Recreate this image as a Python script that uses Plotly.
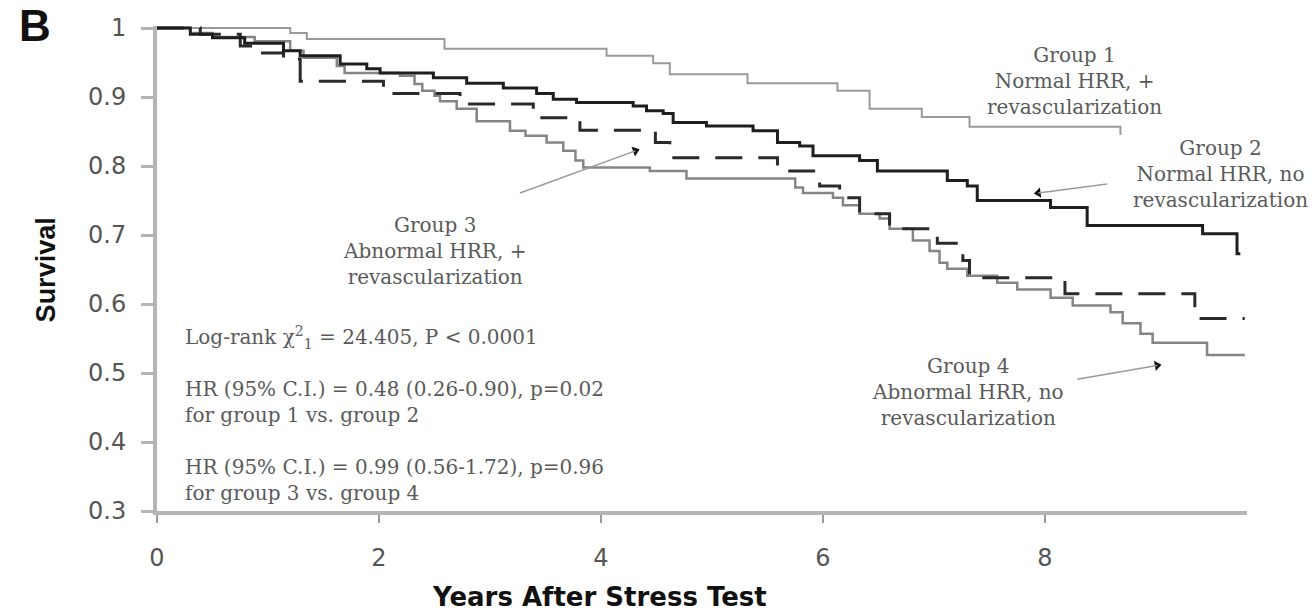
import math
import plotly.graph_objects as go

# ---- data ----
g1_x = [0, 1.20, 1.35, 2.59, 4.05, 4.47, 4.62, 5.32, 6.13, 6.42, 6.89, 7.32, 8.68, 8.68]
g1_y = [1.0, 0.993, 0.984, 0.970, 0.960, 0.949, 0.933, 0.920, 0.909, 0.883, 0.871, 0.857, 0.857, 0.845]

g2_x = [0, 0.30, 0.50, 0.79, 1.14, 1.29, 1.65, 1.89, 2.01, 2.49, 2.79, 3.12, 3.42, 3.57, 3.78,
        4.29, 4.41, 4.56, 4.65, 4.95, 5.37, 5.59, 5.79, 5.91, 6.33, 6.49, 7.12, 7.30, 7.39,
        8.05, 8.38, 9.42, 9.73, 9.76]
g2_y = [1.0, 0.991, 0.986, 0.978, 0.967, 0.960, 0.948, 0.941, 0.935, 0.928, 0.920, 0.913, 0.905,
        0.897, 0.892, 0.887, 0.880, 0.876, 0.863, 0.858, 0.851, 0.834, 0.829, 0.815, 0.808,
        0.793, 0.779, 0.771, 0.750, 0.740, 0.714, 0.702, 0.673, 0.673]

g3_x = [0, 0.39, 0.75, 0.95, 1.14, 1.29, 2.04, 2.73, 3.39, 3.81, 4.49, 4.62, 5.59, 5.97, 6.15,
        6.33, 6.60, 7.03, 7.26, 7.32, 8.18, 9.35, 9.80]
g3_y = [1.0, 0.991, 0.974, 0.964, 0.955, 0.923, 0.905, 0.890, 0.870, 0.852, 0.834, 0.812, 0.793,
        0.771, 0.754, 0.731, 0.709, 0.688, 0.663, 0.638, 0.615, 0.579, 0.579]

g4_x = [0, 0.30, 0.50, 0.88, 1.20, 1.32, 1.62, 1.69, 2.19, 2.32, 2.39, 2.50, 2.55, 2.70, 2.88,
        3.18, 3.32, 3.51, 3.66, 3.77, 3.84, 4.44, 4.77, 5.75, 5.82, 6.09, 6.18, 6.33, 6.51,
        6.60, 6.81, 6.96, 7.05, 7.12, 7.30, 7.57, 7.75, 8.05, 8.25, 8.59, 8.70, 8.86, 8.97,
        9.46, 9.80]
g4_y = [1.0, 0.993, 0.987, 0.981, 0.967, 0.957, 0.945, 0.935, 0.931, 0.919, 0.909, 0.902, 0.894,
        0.883, 0.865, 0.851, 0.844, 0.834, 0.822, 0.808, 0.798, 0.793, 0.782, 0.769, 0.761,
        0.754, 0.743, 0.731, 0.724, 0.709, 0.692, 0.677, 0.660, 0.651, 0.641, 0.631, 0.621,
        0.609, 0.598, 0.588, 0.572, 0.557, 0.544, 0.526, 0.526]

x_ticks = [0, 2, 4, 6, 8]
y_ticks = [0.3, 0.4, 0.5, 0.6, 0.7, 0.8, 0.9, 1.0]
y_tick_text = ["0.3", "0.4", "0.5", "0.6", "0.7", "0.8", "0.9", "1"]

group_labels = [
    "Group 1<br>Normal HRR, +<br>revascularization",
    "Group 2<br>Normal HRR, no<br>revascularization",
    "Group 3<br>Abnormal HRR, +<br>revascularization",
    "Group 4<br>Abnormal HRR, no<br>revascularization",
]
stat_lines = [
    "Log-rank χ<sup>2</sup><sub>1</sub> = 24.405, P < 0.0001",
    "HR (95% C.I.) = 0.48 (0.26-0.90), p=0.02<br>for group 1 vs. group 2",
    "HR (95% C.I.) = 0.99 (0.56-1.72), p=0.96<br>for group 3 vs. group 4",
]

# ---- layout constants ----
X_RANGE = [0, 9.82]
Y_RANGE = [0.3, 1.003]
PX_PER_X = 1090 / (X_RANGE[1] - X_RANGE[0])
PX_PER_Y = 484 / (Y_RANGE[1] - Y_RANGE[0])

label_pos = [(8.27, 0.923), (9.58, 0.789), (2.50, 0.677), (7.31, 0.472)]
# arrows: (tail_x, tail_y, head_x, head_y)
arrow_pos = [(3.27, 0.761, 4.31, 0.822), (8.56, 0.774, 7.94, 0.761), (8.29, 0.491, 9.01, 0.511)]
stat_pos = [0.552, 0.458, 0.345]

fig = go.Figure()
fig.add_trace(go.Scatter(x=g1_x, y=g1_y, mode="lines", line_shape="hv",
                         line=dict(color="#9a9a9a", width=2), name="Group 1"))
fig.add_trace(go.Scatter(x=g4_x, y=g4_y, mode="lines", line_shape="hv",
                         line=dict(color="#858585", width=2.5), name="Group 4"))
fig.add_trace(go.Scatter(x=g3_x, y=g3_y, mode="lines", line_shape="hv",
                         line=dict(color="#2a2a2a", width=3, dash="27px,16px"), name="Group 3"))
fig.add_trace(go.Scatter(x=g2_x, y=g2_y, mode="lines", line_shape="hv",
                         line=dict(color="#1e1e1e", width=3), name="Group 2"))

serif = "DejaVu Serif"
txtc = "#5a5a5a"
ann = []
shapes = []

for (lx, ly), txt in zip(label_pos, group_labels):
    ann.append(dict(x=lx, y=ly, xref="x", yref="y", text=txt, showarrow=False,
                    font=dict(family=serif, size=20, color=txtc), align="center",
                    xanchor="center", yanchor="middle"))

head_x, head_y, head_ang = [], [], []
for tx, ty, hx, hy in arrow_pos:
    shapes.append(dict(type="line", xref="x", yref="y", x0=tx, y0=ty, x1=hx, y1=hy,
                       line=dict(color="#9a9a9a", width=1.5)))
    dxp = (hx - tx) * PX_PER_X
    dyp = -(hy - ty) * PX_PER_Y
    head_x.append(hx)
    head_y.append(hy)
    head_ang.append(math.degrees(math.atan2(dxp, -dyp)))

fig.add_trace(go.Scatter(x=head_x, y=head_y, mode="markers", hoverinfo="skip",
                         marker=dict(symbol="triangle-up", size=9, color="#111111",
                                     angle=head_ang), name="arrows"))

for sy, txt in zip(stat_pos, stat_lines):
    ann.append(dict(x=0.234, y=sy, xref="x", yref="y", text=txt, showarrow=False,
                    font=dict(family=serif, size=20, color=txtc), align="left",
                    xanchor="left", yanchor="middle"))

ann.append(dict(x=-0.128, y=1.055, xref="paper", yref="paper", text="<b>B</b>", showarrow=False,
                xanchor="left", yanchor="top",
                font=dict(family="Liberation Sans", size=44, color="#111111")))
ann.append(dict(x=-0.101, y=0.498, xref="paper", yref="paper", text="<b>Survival</b>",
                showarrow=False, textangle=-90, xanchor="center", yanchor="middle",
                font=dict(family="Liberation Sans", size=27, color="#111111")))
ann.append(dict(x=0.406, y=-0.178, xref="paper", yref="paper",
                text="<b>Years After Stress Test</b>", showarrow=False,
                xanchor="center", yanchor="middle",
                font=dict(family="DejaVu Sans", size=26, color="#111111")))

fig.update_layout(
    width=1315, height=613,
    margin=dict(l=157, r=68, t=26, b=102),
    paper_bgcolor="white", plot_bgcolor="white",
    showlegend=False,
    annotations=ann,
    shapes=shapes,
)
fig.update_xaxes(range=X_RANGE, tickvals=x_ticks, ticktext=[str(v) for v in x_ticks],
                 showline=True, linecolor="#b5b5b5", linewidth=4, ticks="outside",
                 ticklen=8, tickwidth=2, tickcolor="#9a9a9a", showgrid=False, zeroline=False,
                 tickfont=dict(family="DejaVu Sans", size=24, color="#555555"),
                 ticklabelstandoff=14)
fig.update_yaxes(range=Y_RANGE, tickvals=y_ticks, ticktext=y_tick_text,
                 showline=True, linecolor="#b5b5b5", linewidth=4, ticks="outside",
                 ticklen=12, tickwidth=3, tickcolor="#b5b5b5", showgrid=False, zeroline=False,
                 tickfont=dict(family="DejaVu Sans", size=24, color="#555555"),
                 ticklabelstandoff=10)

fig.write_html("out.html")
